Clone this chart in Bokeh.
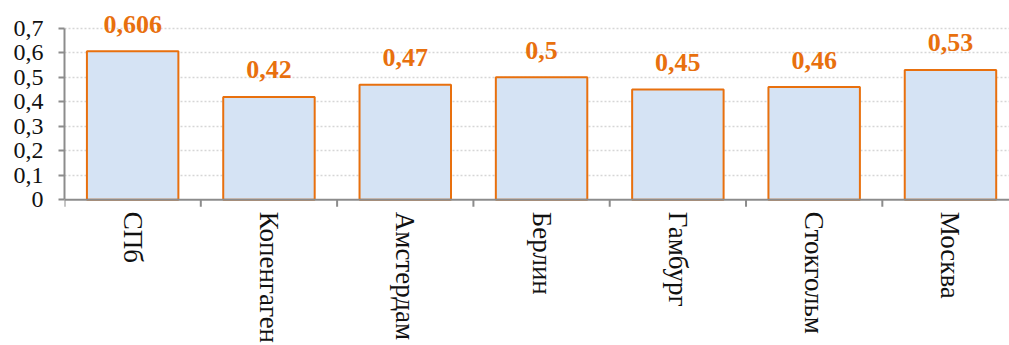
import math

from bokeh.core.properties import value
from bokeh.embed import file_html
from bokeh.models import ColumnDataSource, CustomJSTickFormatter, FixedTicker, Range1d, Span
from bokeh.plotting import figure
from bokeh.resources import INLINE

# Data
cities = ["СПб", "Копенгаген", "Амстердам", "Берлин", "Гамбург", "Стокгольм", "Москва"]
ratios = [0.606, 0.42, 0.47, 0.5, 0.45, 0.46, 0.53]
y_ticks = [0.0, 0.1, 0.2, 0.3, 0.4, 0.5, 0.6, 0.7]

ORANGE = "#E8700E"
FILL = "#D5E3F4"
AXIS_GREY = "#8C8C8C"
FONT = "Liberation Serif"

xs = list(range(len(cities)))
labels = [f"{v:g}".replace(".", ",") for v in ratios]
source = ColumnDataSource(dict(x=xs, top=ratios, label=labels, name=cities,
                               zero=[0.0] * len(cities)))

# The frame fills the canvas height; the category axis is drawn inside it
p = figure(
    width=1009,
    height=345,
    output_backend="svg",
    toolbar_location=None,
    x_axis_location=None,
    x_range=Range1d(-0.5, 6.433),
    y_range=Range1d(-0.5947, 0.8135),
    min_border_left=64,
    min_border_right=0,
    min_border_top=0,
    min_border_bottom=0,
)
p.outline_line_color = None
p.background_fill_color = "white"
p.border_fill_color = "white"

# Grid: dotted horizontal lines only
p.xgrid.grid_line_color = None
p.ygrid.ticker = FixedTicker(ticks=y_ticks[1:])
p.ygrid.grid_line_color = "#D6D6D6"
p.ygrid.grid_line_dash = "2 2"
p.ygrid.grid_line_width = 1.5

p.vbar(x="x", top="top", width=0.671, bottom=0, source=source,
       fill_color=FILL, line_color=ORANGE, line_width=2)

# Value labels above the bars
p.text(x="x", y="top", text="label", source=source,
       text_font=value(FONT), text_font_style="bold", text_font_size="26px",
       text_color=ORANGE, text_align="center", text_baseline="alphabetic",
       y_offset=-27)

# Category axis: baseline, boundary ticks and rotated names
baseline = Span(location=0, dimension="width", line_color=AXIS_GREY, line_width=2)
p.add_layout(baseline)
bounds = [i - 0.5 for i in range(len(cities) + 1)]
tick_len = 7 / 245.0
p.segment(x0=bounds, y0=[0.0] * len(bounds), x1=bounds, y1=[-tick_len] * len(bounds),
          line_color=AXIS_GREY, line_width=2)
p.text(x="x", y="zero", text="name", source=source,
       text_font=value(FONT), text_font_size="27px", text_color="#111111",
       angle=-math.pi / 2, text_align="left", text_baseline="middle",
       y_offset=12)

# Value axis
yax = p.yaxis[0]
yax.ticker = FixedTicker(ticks=y_ticks)
yax.bounds = (0, 0.7)
yax.formatter = CustomJSTickFormatter(
    code="return Math.abs(tick) < 1e-9 ? '0' : tick.toFixed(1).replace('.', ',');")
yax.axis_line_color = AXIS_GREY
yax.axis_line_width = 2
yax.major_tick_line_color = AXIS_GREY
yax.major_tick_line_width = 2
yax.major_tick_out = 6
yax.major_tick_in = 0
yax.minor_tick_line_color = None
yax.major_label_standoff = 15
yax.major_label_text_font = FONT
yax.major_label_text_font_size = "24px"
yax.major_label_text_color = "#111111"

with open("out.html", "w") as f:
    f.write(file_html(p, INLINE))
